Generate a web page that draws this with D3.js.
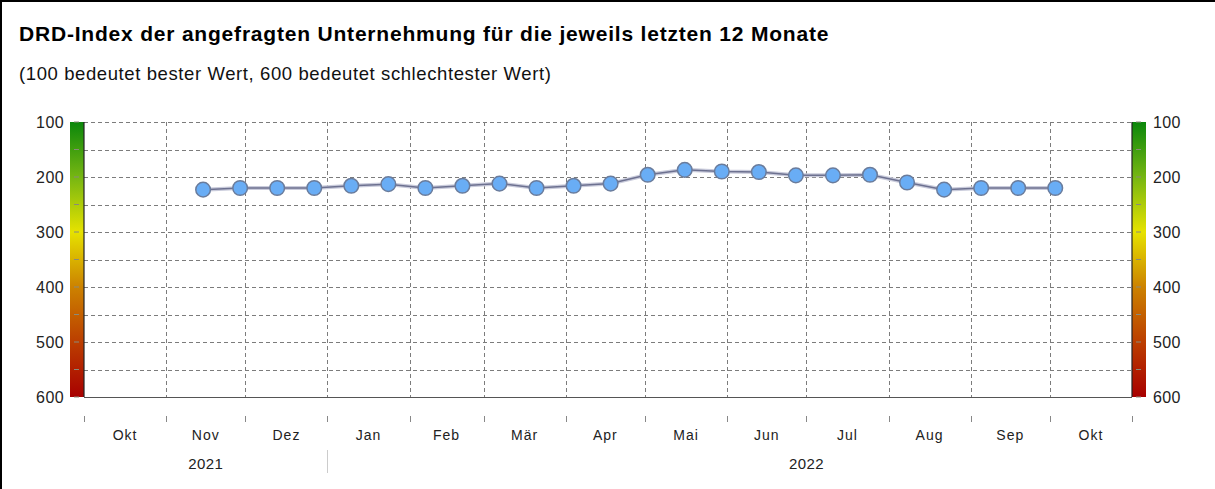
<!DOCTYPE html>
<html>
<head>
<meta charset="utf-8">
<script src="https://cdn.jsdelivr.net/npm/d3@7"></script>
<style>
  body { margin: 0; background: #fff; }
  svg { display: block; }
  text { font-family: "Liberation Sans", Arial, sans-serif; }
</style>
</head>
<body>
<div id="chart"></div>
<script>
// DRD-Index, values every two weeks
let dates = [
    "2021-11-15", "2021-11-29", "2021-12-13", "2021-12-27",
    "2022-01-10", "2022-01-24", "2022-02-07", "2022-02-21",
    "2022-03-07", "2022-03-21", "2022-04-04", "2022-04-18",
    "2022-05-02", "2022-05-16", "2022-05-30", "2022-06-13",
    "2022-06-27", "2022-07-11", "2022-07-25", "2022-08-08",
    "2022-08-22", "2022-09-05", "2022-09-19", "2022-10-03"
];
let values = [
    223, 220, 220, 220, 216, 213, 220, 216,
    212, 220, 216, 212, 196, 187, 190, 191,
    197, 197, 196, 210, 223, 220, 220, 220
];
let monthLabels = ["Okt", "Nov", "Dez", "Jan", "Feb", "Mär", "Apr", "Mai", "Jun", "Jul", "Aug", "Sep", "Okt"];
let yTicks = [100, 200, 300, 400, 500, 600];
let yearLabels = ["2021", "2022"];
let yearAnchors = ["2021-11-16", "2022-07-01"];

let title = "DRD-Index der angefragten Unternehmung für die jeweils letzten 12 Monate";
let subtitle = "(100 bedeutet bester Wert, 600 bedeutet schlechtester Wert)";

let width = 1215, height = 489;
let margin = {top: 122, bottom: 92, left: 84, right: 83};
let parse = d3.timeParse("%Y-%m-%d");

let svg = d3.select("#chart")
    .append("svg")
    .attr("width", width)
    .attr("height", height);

// frame (only left and top visible)
svg.append("line").attr("x1", 1).attr("y1", 0).attr("x2", 1).attr("y2", height)
    .attr("stroke", "#000").attr("stroke-width", 2);
svg.append("line").attr("x1", 0).attr("y1", 1).attr("x2", width).attr("y2", 1)
    .attr("stroke", "#000").attr("stroke-width", 2);

svg.append("text")
    .attr("x", 19).attr("y", 41)
    .attr("font-size", "21px")
    .attr("letter-spacing", "0.8px")
    .attr("font-weight", "bold")
    .attr("fill", "#000")
    .text(title);

svg.append("text")
    .attr("x", 19).attr("y", 80)
    .attr("font-size", "18.5px")
    .attr("letter-spacing", "0.6px")
    .attr("fill", "#111")
    .text(subtitle);

let xScale = d3.scaleTime()
    .domain([new Date(2021, 9, 1), new Date(2022, 10, 1)])
    .range([margin.left, width - margin.right]);
let yScale = d3.scaleLinear()
    .domain([100, 600])
    .range([margin.top, height - margin.bottom]);

// colour bars
let defs = svg.append("defs");
let grad = defs.append("linearGradient")
    .attr("id", "ampel")
    .attr("x1", 0).attr("y1", 0).attr("x2", 0).attr("y2", 1);
[["0", "#0b870b"], ["0.2", "#76b612"], ["0.4", "#e6e200"], ["0.6", "#cc8200"], ["0.8", "#bb3e00"], ["1", "#a80000"]]
    .forEach(function (s) {
        grad.append("stop").attr("offset", s[0]).attr("stop-color", s[1]);
    });

let barW = 14;
let bars = [xScale.range()[0] - barW, xScale.range()[1]];
bars.forEach(function (bx) {
    svg.append("rect")
        .attr("x", bx).attr("y", yScale(100))
        .attr("width", barW).attr("height", yScale(600) - yScale(100))
        .attr("fill", "url(#ampel)");
    svg.selectAll(null)
        .data(d3.range(100, 601, 50))
        .enter().append("line")
        .attr("x1", bx + 4).attr("x2", bx + 9)
        .attr("y1", function (d) { return yScale(d); })
        .attr("y2", function (d) { return yScale(d); })
        .attr("stroke", "#8a8a7a").attr("stroke-width", 1);
});

// grid
let plot = svg.append("g");
plot.selectAll(".hgrid")
    .data(d3.range(100, 601, 50))
    .enter().append("line")
    .attr("class", "hgrid")
    .attr("x1", xScale.range()[0]).attr("x2", xScale.range()[1])
    .attr("y1", function (d) { return Math.round(yScale(d)) + 0.5; })
    .attr("y2", function (d) { return Math.round(yScale(d)) + 0.5; })
    .attr("stroke", "#7c7c7c")
    .attr("stroke-dasharray", "4,3");

let months = d3.timeMonth.range(new Date(2021, 9, 1), new Date(2022, 10, 2));
plot.selectAll(".vgrid")
    .data(months.slice(1, -1))
    .enter().append("line")
    .attr("class", "vgrid")
    .attr("x1", function (d) { return Math.round(xScale(d)) + 0.5; })
    .attr("x2", function (d) { return Math.round(xScale(d)) + 0.5; })
    .attr("y1", yScale(100)).attr("y2", yScale(600))
    .attr("stroke", "#7c7c7c")
    .attr("stroke-dasharray", "4,3");

// plot border
plot.append("line")
    .attr("x1", xScale.range()[0]).attr("x2", xScale.range()[1])
    .attr("y1", Math.round(yScale(600)) + 0.5).attr("y2", Math.round(yScale(600)) + 0.5)
    .attr("stroke", "#555");
xScale.range().forEach(function (x) {
    plot.append("line")
        .attr("x1", x).attr("x2", x)
        .attr("y1", yScale(100)).attr("y2", yScale(600))
        .attr("stroke", "#222").attr("stroke-width", 1.2);
});

// y labels both sides
svg.selectAll(".ylabL")
    .data(yTicks)
    .enter().append("text")
    .attr("class", "ylabL")
    .attr("x", 64)
    .attr("y", function (d) { return yScale(d); })
    .attr("dy", "0.36em")
    .attr("text-anchor", "end")
    .attr("font-size", "16px")
    .attr("letter-spacing", "0.4px")
    .attr("fill", "#222")
    .text(function (d) { return d; });
svg.selectAll(".ylabR")
    .data(yTicks)
    .enter().append("text")
    .attr("class", "ylabR")
    .attr("x", 1153)
    .attr("y", function (d) { return yScale(d); })
    .attr("dy", "0.36em")
    .attr("font-size", "16px")
    .attr("letter-spacing", "0.4px")
    .attr("fill", "#222")
    .text(function (d) { return d; });

// x axis: ticks at month boundaries, labels mid-month
svg.selectAll(".xtick")
    .data(months)
    .enter().append("line")
    .attr("class", "xtick")
    .attr("x1", function (d) { return Math.round(xScale(d)) + 0.5; })
    .attr("x2", function (d) { return Math.round(xScale(d)) + 0.5; })
    .attr("y1", 416).attr("y2", 422)
    .attr("stroke", "#888");

svg.selectAll(".xlab")
    .data(months.slice(0, -1))
    .enter().append("text")
    .attr("class", "xlab")
    .attr("x", function (d) {
        return (xScale(d) + xScale(d3.timeMonth.offset(d, 1))) / 2;
    })
    .attr("y", 440)
    .attr("text-anchor", "middle")
    .attr("font-size", "14px")
    .attr("letter-spacing", "1px")
    .attr("fill", "#222")
    .text(function (d, i) { return monthLabels[i]; });

svg.selectAll(".yearlab")
    .data(yearLabels)
    .enter().append("text")
    .attr("class", "yearlab")
    .attr("x", function (d, i) { return xScale(parse(yearAnchors[i])); })
    .attr("y", 469)
    .attr("text-anchor", "middle")
    .attr("font-size", "15px")
    .attr("letter-spacing", "0.4px")
    .attr("fill", "#222")
    .text(function (d) { return d; });

svg.append("line")
    .attr("x1", Math.round(xScale(new Date(2022, 0, 1))) + 0.5)
    .attr("x2", Math.round(xScale(new Date(2022, 0, 1))) + 0.5)
    .attr("y1", 450).attr("y2", 473)
    .attr("stroke", "#ccc");

// series
let data = dates.map(function (d, i) { return {date: parse(d), value: values[i]}; });
let line = d3.line()
    .x(function (d) { return xScale(d.date); })
    .y(function (d) { return yScale(d.value); });

svg.append("path")
    .datum(data)
    .attr("d", line)
    .attr("fill", "none")
    .attr("stroke", "#c9cbdb")
    .attr("stroke-width", 4);
svg.append("path")
    .datum(data)
    .attr("d", line)
    .attr("fill", "none")
    .attr("stroke", "#6d7190")
    .attr("stroke-width", 1.5);

svg.selectAll(".pt")
    .data(data)
    .enter().append("circle")
    .attr("class", "pt")
    .attr("cx", function (d) { return xScale(d.date); })
    .attr("cy", function (d) { return yScale(d.value); })
    .attr("r", 7.3)
    .attr("fill", "#69adf5")
    .attr("stroke", "#6a7c9c")
    .attr("stroke-width", 1.5);
</script>
</body>
</html>
